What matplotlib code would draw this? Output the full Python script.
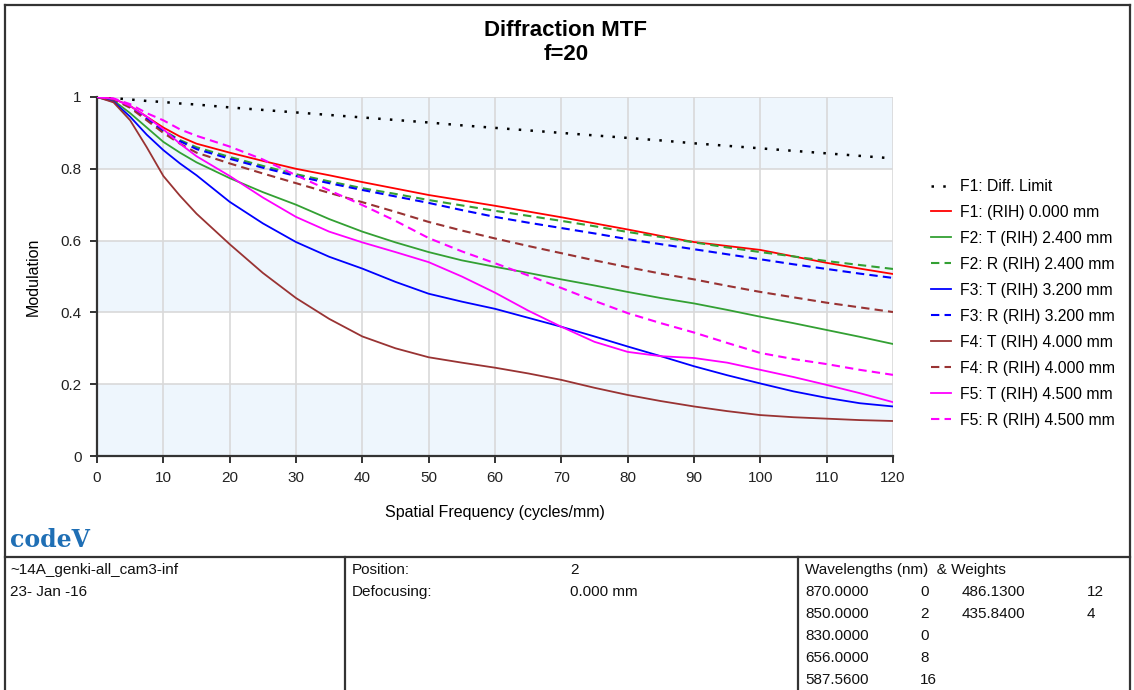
import numpy as np
import matplotlib.pyplot as plt
from matplotlib.lines import Line2D

plt.rcParams['font.family'] = ['Liberation Sans', 'DejaVu Sans']

# spatial frequency samples (cycles/mm)
freq = [0, 2.5, 5, 7.5, 10, 12.5, 15, 20, 25, 30, 35, 40, 45, 50, 55, 60,
        65, 70, 75, 80, 85, 90, 95, 100, 105, 110, 115, 120]

diff_limit = [1.0, 0.997, 0.993, 0.989, 0.986, 0.982, 0.979, 0.971, 0.964, 0.957, 0.950, 0.943, 0.936, 0.929,
              0.921, 0.914, 0.907, 0.900, 0.893, 0.886, 0.879, 0.871, 0.864, 0.857, 0.850, 0.843, 0.836, 0.829]
f1 = [1.0, 0.995, 0.975, 0.945, 0.915, 0.89, 0.87, 0.845, 0.822, 0.80, 0.782, 0.763, 0.745, 0.727,
      0.712, 0.697, 0.681, 0.665, 0.648, 0.631, 0.613, 0.596, 0.585, 0.574, 0.556, 0.538, 0.522, 0.507]
f2_t = [1.0, 0.99, 0.955, 0.915, 0.875, 0.845, 0.818, 0.774, 0.735, 0.70, 0.66, 0.625, 0.595, 0.568,
        0.545, 0.527, 0.51, 0.492, 0.475, 0.457, 0.44, 0.425, 0.407, 0.388, 0.37, 0.351, 0.332, 0.312]
f2_r = [1.0, 0.994, 0.973, 0.942, 0.907, 0.88, 0.86, 0.833, 0.808, 0.785, 0.765, 0.746, 0.73, 0.713,
        0.698, 0.683, 0.669, 0.655, 0.64, 0.624, 0.61, 0.595, 0.581, 0.568, 0.556, 0.543, 0.532, 0.521]
f3_t = [1.0, 0.987, 0.945, 0.895, 0.852, 0.815, 0.782, 0.708, 0.648, 0.596, 0.555, 0.522, 0.485, 0.452,
        0.43, 0.41, 0.385, 0.36, 0.333, 0.305, 0.278, 0.25, 0.225, 0.202, 0.18, 0.162, 0.147, 0.138]
f3_r = [1.0, 0.994, 0.972, 0.94, 0.905, 0.877, 0.855, 0.828, 0.803, 0.78, 0.76, 0.741, 0.723, 0.705,
        0.685, 0.666, 0.65, 0.635, 0.62, 0.604, 0.59, 0.576, 0.562, 0.548, 0.534, 0.521, 0.508, 0.496]
f4_t = [1.0, 0.985, 0.935, 0.86, 0.78, 0.725, 0.675, 0.59, 0.51, 0.44, 0.382, 0.333, 0.30, 0.275,
        0.26, 0.246, 0.23, 0.212, 0.19, 0.17, 0.153, 0.138, 0.125, 0.114, 0.108, 0.104, 0.10, 0.0975]
f4_r = [1.0, 0.993, 0.97, 0.935, 0.90, 0.87, 0.845, 0.815, 0.787, 0.76, 0.733, 0.707, 0.68, 0.652,
        0.628, 0.606, 0.585, 0.565, 0.545, 0.526, 0.508, 0.492, 0.474, 0.457, 0.442, 0.427, 0.414, 0.401]
f5_t = [1.0, 0.995, 0.975, 0.945, 0.91, 0.87, 0.835, 0.78, 0.72, 0.666, 0.625, 0.595, 0.568, 0.54,
        0.50, 0.455, 0.405, 0.36, 0.318, 0.29, 0.278, 0.273, 0.26, 0.24, 0.22, 0.198, 0.175, 0.15]
f5_r = [1.0, 0.996, 0.98, 0.955, 0.935, 0.91, 0.892, 0.862, 0.826, 0.782, 0.74, 0.699, 0.655, 0.607,
        0.57, 0.537, 0.503, 0.468, 0.432, 0.398, 0.37, 0.344, 0.315, 0.287, 0.27, 0.256, 0.24, 0.226]

labels = ['F1: Diff. Limit', 'F1: (RIH) 0.000 mm',
          'F2: T (RIH) 2.400 mm', 'F2: R (RIH) 2.400 mm',
          'F3: T (RIH) 3.200 mm', 'F3: R (RIH) 3.200 mm',
          'F4: T (RIH) 4.000 mm', 'F4: R (RIH) 4.000 mm',
          'F5: T (RIH) 4.500 mm', 'F5: R (RIH) 4.500 mm']
series = [diff_limit, f1, f2_t, f2_r, f3_t, f3_r, f4_t, f4_r, f5_t, f5_r]
colors = ['black', '#ff0000', '#33a033', '#33a033', '#0000ff', '#0000ff',
          '#993333', '#993333', '#ff00ff', '#ff00ff']
dotted = (0, (1, 3.7))
dashed = (0, (4, 2.5))
styles = [dotted, '-', '-', dashed, '-', dashed, '-', dashed, '-', dashed]
widths = [1.8, 1.3, 1.3, 1.5, 1.3, 1.5, 1.3, 1.5, 1.3, 1.5]

W, H = 1134, 690
fig = plt.figure(figsize=(W / 100, H / 100), dpi=100)


def fx(px):
    return px / W


def fy(py):
    return 1 - py / H


ax = fig.add_axes([fx(97), fy(456), fx(893) - fx(97), fy(97) - fy(456)])

# alternating light blue bands
for lo in [0.0, 0.4, 0.8]:
    ax.axhspan(lo, lo + 0.2, color='#eef6fd', zorder=0, lw=0)

for s, c, ls, lw, lab in zip(series, colors, styles, widths, labels):
    ax.plot(freq, s, color=c, linestyle=ls, linewidth=lw, label=lab, zorder=3)

ax.set_xlim(0, 120)
ax.set_ylim(0, 1)
ax.set_xticks(np.arange(0, 121, 10))
ax.set_yticks([0, 0.2, 0.4, 0.6, 0.8, 1.0])
ax.set_yticklabels(['0', '0.2', '0.4', '0.6', '0.8', '1'])
ax.grid(True, color='#d9d9d9', linewidth=1.2, zorder=1)
ax.set_axisbelow(True)
for side in ['top', 'right']:
    ax.spines[side].set_visible(False)
for side in ['left', 'bottom']:
    ax.spines[side].set_color('#333333')
    ax.spines[side].set_linewidth(1.6)
ax.tick_params(direction='out', length=5, width=1.4, color='#333333',
               labelsize=11, pad=6, labelcolor='#222222')
ax.set_xlabel('Spatial Frequency (cycles/mm)', fontsize=11.5, labelpad=14)
ax.set_ylabel('Modulation', fontsize=11.5, labelpad=14)

# title
fig.text(fx(566), fy(31), 'Diffraction MTF', ha='center', va='center', fontsize=16, fontweight='bold')
fig.text(fx(566), fy(55), 'f=20', ha='center', va='center', fontsize=16, fontweight='bold')

# legend
handles, labs = ax.get_legend_handles_labels()
leg = fig.legend(handles, labs, loc='upper left', bbox_to_anchor=(fx(931), fy(179)),
                 frameon=False, fontsize=11.3, handlelength=1.3, handletextpad=0.55,
                 labelspacing=0.70, borderpad=0, borderaxespad=0)

# logo
fig.text(fx(10), fy(540), 'codeV', ha='left', va='center', fontsize=17, fontweight='bold',
         color='#1f6fb5', family='DejaVu Serif')

# outer frame and footer table lines
frame_kw = dict(color='#333333', linewidth=1.6, transform=fig.transFigure)
fig.add_artist(Line2D([fx(5), fx(5)], [fy(5), fy(700)], **frame_kw))
fig.add_artist(Line2D([fx(5), fx(1130)], [fy(5), fy(5)], **frame_kw))
fig.add_artist(Line2D([fx(1130), fx(1130)], [fy(5), fy(700)], **frame_kw))
fig.add_artist(Line2D([fx(5), fx(1130)], [fy(557), fy(557)], **frame_kw))
fig.add_artist(Line2D([fx(345), fx(345)], [fy(557), fy(700)], **frame_kw))
fig.add_artist(Line2D([fx(798), fx(798)], [fy(557), fy(700)], **frame_kw))

# footer text
file_info = ['~14A_genki-all_cam3-inf', '23- Jan -16']
pos_names = ['Position:', 'Defocusing:']
pos_values = ['2', '0.000 mm']
wl_col1 = ['870.0000', '850.0000', '830.0000', '656.0000', '587.5600']
wt_col1 = ['0', '2', '0', '8', '16']
wl_col2 = ['486.1300', '435.8400']
wt_col2 = ['12', '4']

row_y = [570, 592, 614, 636, 658, 680]
tkw = dict(fontsize=11, va='center', ha='left', color='#111111')
for i, t in enumerate(file_info):
    fig.text(fx(10), fy(row_y[i]), t, **tkw)
for i, (n, v) in enumerate(zip(pos_names, pos_values)):
    fig.text(fx(352), fy(row_y[i]), n, **tkw)
    fig.text(fx(570), fy(row_y[i]), v, **tkw)
fig.text(fx(805), fy(row_y[0]), 'Wavelengths (nm)  & Weights', **tkw)
for i, (w, g) in enumerate(zip(wl_col1, wt_col1)):
    fig.text(fx(805), fy(row_y[i + 1]), w, **tkw)
    fig.text(fx(920), fy(row_y[i + 1]), g, **tkw)
for i, (w, g) in enumerate(zip(wl_col2, wt_col2)):
    fig.text(fx(962), fy(row_y[i + 1]), w, **tkw)
    fig.text(fx(1087), fy(row_y[i + 1]), g, **tkw)

fig.savefig('out.png', dpi=100)
